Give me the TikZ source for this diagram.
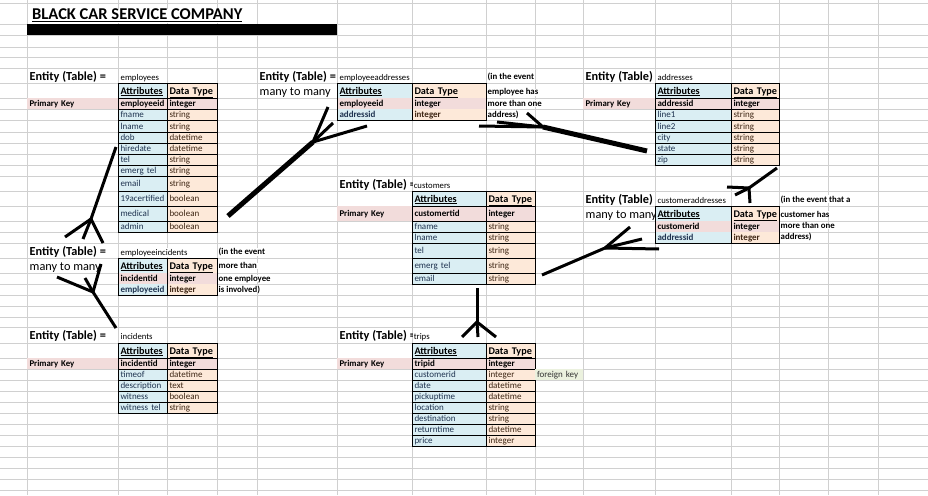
\documentclass[tikz,border=0pt]{standalone}
\usepackage{fontspec}
\setmainfont{Carlito}
\definecolor{attrblue}{HTML}{DAEEF3}
\definecolor{dtorange}{HTML}{FDE9D9}
\definecolor{pkpink}{HTML}{F2DCDB}
\definecolor{fkgreen}{HTML}{EBF1DE}
\definecolor{gridgray}{HTML}{D0D0D0}
\definecolor{attrtext}{HTML}{1F3350}
\definecolor{dttext}{HTML}{3E2614}
\begin{document}
\begin{tikzpicture}[
                    x=1pt, y=-1pt,
                    gridline/.style={draw=gridgray, line width=0.8pt},
                    cell/.style={anchor=north west, draw=black, line width=0.7pt, outer sep=0pt,
                                 inner xsep=2.5pt, inner ysep=0pt, text height=6.2pt, text depth=0pt,
                                 align=left, font=\fontsize{9}{10}\selectfont},
                    attr/.style={cell, fill=attrblue, text=attrtext},
                    dtype/.style={cell, fill=dtorange, text=dttext},
                    key/.style={fill=pkpink, text=black, font=\bfseries\fontsize{9}{10}\selectfont},
                    boldtext/.style={font=\bfseries\fontsize{9}{10}\selectfont},
                    head/.style={text=black, text height=7pt, font=\bfseries\fontsize{10.2}{12}\selectfont},
                    bare/.style={draw=none},
                    pklabel/.style={cell, draw=none, fill=pkpink, text=black, font=\bfseries\fontsize{8.8}{10}\selectfont},
                    fklabel/.style={cell, draw=none, fill=fkgreen, text=black!80, inner xsep=2pt},
                    entity/.style={anchor=base west, inner xsep=1pt, inner ysep=0pt, font=\bfseries\fontsize{12.3}{14}\selectfont},
                    manytomany/.style={entity, font=\fontsize{12.3}{14}\selectfont},
                    tname/.style={anchor=base west, inner xsep=1pt, inner ysep=1pt, fill=white, font=\fontsize{8.7}{10}\selectfont},
                    note/.style={tname, inner ysep=0pt, font=\bfseries\fontsize{8.8}{10}\selectfont},
                    tblline/.style={draw=black, line width=0.7pt},
                    stroke/.style={line width=3pt, line join=round},
                    heavy/.style={line width=5pt}
                    ]

    \useasboundingbox (0,0) rectangle (928,495);

    % sheet grid
    \foreach \r in {3,24,35,47,57,68,83,98,109,120,132,143,154,165,176,191,206,221,232,243,258,273,284,295,306,317,327,343,358,369,380,391,402,413,424,435,446,457,468,479,490}
        \draw[gridline] (0,\r) -- (928,\r);
    \foreach \c in {27,118,167,217,257,337,412,486,535,583,655,731,779,828,878}
        \draw[gridline] (\c,0) -- (\c,495);

    \node[anchor=base west, inner sep=0.5pt, fill=white, font=\bfseries\fontsize{16.5}{18}\selectfont] (title) at (31.5,20) {\underline{BLACK CAR SERVICE COMPANY}};
    \fill (27,24) rectangle (337,35);

    % labels
    \node[entity] (emp-ent) at (28.5,80) {Entity (Table) =};
    \node[tname] (emp-name) at (119.5,80) {employees};
    \node[entity] (ea-ent) at (258.5,80) {Entity (Table) =};
    \node[manytomany] (ea-m2m) at (258.5,95) {many to many};
    \node[tname] (ea-name) at (338.5,80) {employeeaddresses};
    \node[entity] (adr-ent) at (584.5,80) {Entity (Table)};
    \node[tname] (adr-name) at (656.5,80) {addresses};
    \begin{scope}
        \clip (337,176) rectangle (412,191);
        \node[entity] (cus-ent) at (338.5,188) {Entity (Table) =};
    \end{scope}
    \node[tname] (cus-name) at (412.6,188) {customers};
    \node[entity] (ca-ent) at (584.5,203) {Entity (Table)};
    \node[manytomany] (ca-m2m) at (584.5,218) {many to many};
    \node[tname] (ca-name) at (656.5,203) {customeraddresses};
    \node[entity] (ei-ent) at (28.5,255) {Entity (Table) =};
    \node[manytomany] (ei-m2m) at (28.5,270) {many to many};
    \node[tname] (ei-name) at (119.5,255) {employeeincidents};
    \node[entity] (inc-ent) at (28.5,339.5) {Entity (Table) =};
    \node[tname] (inc-name) at (119.5,339.5) {incidents};
    \begin{scope}
        \clip (337,327) rectangle (412,343);
        \node[entity] (trp-ent) at (338.5,339.5) {Entity (Table) =};
    \end{scope}
    \node[tname] (trp-name) at (412.6,339.5) {trips};

    \node[note] (ea-n1) at (486.5,79.5) {(in the event};
    \node[note] (ea-n2) at (486.5,94.7) {employee has};
    \node[note] (ea-n3) at (486.5,106.5) {more than one};
    \node[note] (ea-n4) at (486.5,117.5) {address)};
    \node[note] (ca-n1) at (779.5,202) {(in the event that a};
    \node[note] (ca-n2) at (779.5,217) {customer has};
    \node[note] (ca-n3) at (779.5,228.8) {more than one};
    \node[note] (ca-n4) at (779.5,239.8) {address)};
    \node[note] (ei-n1) at (217.5,254.3) {(in the event};
    \node[note] (ei-n2) at (217.5,268.8) {more than};
    \node[note] (ei-n3) at (217.5,281) {one employee};
    \node[note] (ei-n4) at (217.5,292) {is involved)};

    % employees
    \node[pklabel, text width=86pt, minimum height=11] (emp-pk) at (27,98) {Primary Key};
    \node[attr, head, text width=44pt, minimum height=15] (emp-ah) at (118,83) {\underline{Attributes}};
    \node[dtype, head, text width=45pt, minimum height=15] (emp-dh) at (167,83) {\underline{Data Type}};
    \node[attr, key, text width=44pt, minimum height=11] (emp-a0) at (118,98) {employeeid};
    \node[dtype, key, text width=45pt, minimum height=11] (emp-d0) at (167,98) {integer};
    \foreach \t/\h/\a/\d [count=\i] in {109/11/fname/string, 120/12/lname/string, 132/11/dob/datetime, 143/11/hiredate/datetime,
                                          154/11/tel/string, 165/11/emerg tel/string, 176/15/email/string, 191/15/19acertified/boolean,
                                          206/15/medical/boolean, 221/11/admin/boolean}{
        \node[attr, text width=44pt, minimum height=\h] (emp-a\i) at (118,\t) {\a};
        \node[dtype, text width=45pt, minimum height=\h] (emp-d\i) at (167,\t) {\d};
    }

    % employeeaddresses
    \node[attr, head, bare, text width=70pt, minimum height=15] (ea-ah) at (337,83) {\underline{Attributes}};
    \node[dtype, head, bare, text width=69pt, minimum height=15] (ea-dh) at (412,83) {\underline{Data Type}};
    \node[attr, key, bare, text width=70pt, minimum height=11] (ea-a1) at (337,98) {employeeid};
    \node[dtype, key, bare, text width=69pt, minimum height=11] (ea-d1) at (412,98) {integer};
    \node[attr, boldtext, bare, text width=70pt, minimum height=11] (ea-a2) at (337,109) {addressid};
    \node[dtype, boldtext, bare, text width=69pt, minimum height=11] (ea-d2) at (412,109) {integer};
    \draw[tblline] (ea-ah.north west) rectangle (ea-d2.south east);
    \draw[tblline] (ea-ah.north east) -- (ea-a2.south east);

    % addresses
    \node[pklabel, text width=67pt, minimum height=11] (adr-pk) at (583,98) {Primary Key};
    \node[attr, head, text width=71pt, minimum height=15] (adr-ah) at (655,83) {\underline{Attributes}};
    \node[dtype, head, text width=43pt, minimum height=15] (adr-dh) at (731,83) {\underline{Data Type}};
    \node[attr, key, text width=71pt, minimum height=11] (adr-a0) at (655,98) {addressid};
    \node[dtype, key, text width=43pt, minimum height=11] (adr-d0) at (731,98) {integer};
    \foreach \t/\h/\a [count=\i] in {109/11/line1, 120/12/line2, 132/11/city, 143/11/state, 154/11/zip}{
        \node[attr, text width=71pt, minimum height=\h] (adr-a\i) at (655,\t) {\a};
        \node[dtype, text width=43pt, minimum height=\h] (adr-d\i) at (731,\t) {string};
    }

    % customers
    \node[pklabel, text width=70pt, minimum height=15] (cus-pk) at (337,206) {Primary Key};
    \node[attr, head, text width=69pt, minimum height=15] (cus-ah) at (412,191) {\underline{Attributes}};
    \node[dtype, head, text width=44pt, minimum height=15] (cus-dh) at (486,191) {\underline{Data Type}};
    \node[attr, key, text width=69pt, minimum height=15] (cus-a0) at (412,206) {customertid};
    \node[dtype, key, text width=44pt, minimum height=15] (cus-d0) at (486,206) {integer};
    \foreach \t/\h/\a [count=\i] in {221/11/fname, 232/11/lname, 243/15/tel, 258/15/emerg tel, 273/11/email}{
        \node[attr, text width=69pt, minimum height=\h] (cus-a\i) at (412,\t) {\a};
        \node[dtype, text width=44pt, minimum height=\h] (cus-d\i) at (486,\t) {string};
    }

    % customeraddresses
    \node[attr, head, bare, text width=71pt, minimum height=15] (ca-ah) at (655,206) {\underline{Attributes}};
    \node[dtype, head, bare, text width=43pt, minimum height=15] (ca-dh) at (731,206) {\underline{Data Type}};
    \node[attr, key, bare, text width=71pt, minimum height=11] (ca-a1) at (655,221) {customerid};
    \node[dtype, key, bare, text width=43pt, minimum height=11] (ca-d1) at (731,221) {integer};
    \node[attr, boldtext, bare, text width=71pt, minimum height=11] (ca-a2) at (655,232) {addressid};
    \node[dtype, boldtext, bare, text width=43pt, minimum height=11] (ca-d2) at (731,232) {integer};
    \draw[tblline] (ca-ah.north west) rectangle (ca-d2.south east);
    \draw[tblline] (ca-ah.north east) -- (ca-a2.south east);

    % employeeincidents
    \node[attr, head, bare, text width=44pt, minimum height=15] (ei-ah) at (118,258) {\underline{Attributes}};
    \node[dtype, head, bare, text width=45pt, minimum height=15] (ei-dh) at (167,258) {\underline{Data Type}};
    \node[attr, key, bare, text width=44pt, minimum height=11] (ei-a1) at (118,273) {incidentid};
    \node[dtype, key, bare, text width=45pt, minimum height=11] (ei-d1) at (167,273) {integer};
    \node[attr, boldtext, bare, text width=44pt, minimum height=11] (ei-a2) at (118,284) {employeeid};
    \node[dtype, boldtext, bare, text width=45pt, minimum height=11] (ei-d2) at (167,284) {integer};
    \draw[tblline] (ei-ah.north west) rectangle (ei-d2.south east);
    \draw[tblline] (ei-ah.north east) -- (ei-a2.south east);

    % incidents
    \node[pklabel, text width=86pt, minimum height=11] (inc-pk) at (27,358) {Primary Key};
    \node[attr, head, text width=44pt, minimum height=15] (inc-ah) at (118,343) {\underline{Attributes}};
    \node[dtype, head, text width=45pt, minimum height=15] (inc-dh) at (167,343) {\underline{Data Type}};
    \node[attr, key, text width=44pt, minimum height=11] (inc-a0) at (118,358) {incidentid};
    \node[dtype, key, text width=45pt, minimum height=11] (inc-d0) at (167,358) {integer};
    \foreach \t/\a/\d [count=\i] in {369/timeof/datetime, 380/description/text, 391/witness/boolean, 402/witness tel/string}{
        \node[attr, text width=44pt, minimum height=11] (inc-a\i) at (118,\t) {\a};
        \node[dtype, text width=45pt, minimum height=11] (inc-d\i) at (167,\t) {\d};
    }

    % trips
    \node[pklabel, text width=70pt, minimum height=11] (trp-pk) at (337,358) {Primary Key};
    \node[attr, head, text width=69pt, minimum height=15] (trp-ah) at (412,343) {\underline{Attributes}};
    \node[dtype, head, text width=44pt, minimum height=15] (trp-dh) at (486,343) {\underline{Data Type}};
    \node[attr, key, text width=69pt, minimum height=11] (trp-a0) at (412,358) {tripid};
    \node[dtype, key, text width=44pt, minimum height=11] (trp-d0) at (486,358) {integer};
    \foreach \t/\a/\d [count=\i] in {369/customerid/integer, 380/date/datetime, 391/pickuptime/datetime, 402/location/string,
                                       413/destination/string, 424/returntime/datetime, 435/price/integer}{
        \node[attr, text width=69pt, minimum height=11] (trp-a\i) at (412,\t) {\a};
        \node[dtype, text width=44pt, minimum height=11] (trp-d\i) at (486,\t) {\d};
    }
    \node[fklabel, text width=44pt, minimum height=11] (trp-fk) at (535,369) {foreign key};

    % hand drawn crow's feet
    \node [coordinate] (ei-tail) at (116,147) {};
    \node [coordinate] (ei-join) at (91,219) {};
    \node [coordinate] (ei-f1) at (65,237) {};
    \node [coordinate] (ei-f2) at (83,239) {};
    \node [coordinate] (ei-f3) at (103,243) {};
    \draw[stroke] (ei-tail) -- (ei-join);
    \foreach \f in {1,2,3} \draw[stroke] (ei-join) -- (ei-f\f);

    \node [coordinate] (inc-tail) at (116,328) {};
    \node [coordinate] (inc-join) at (93,292) {};
    \node [coordinate] (inc-f1) at (57,277) {};
    \node [coordinate] (inc-f2) at (85,278) {};
    \node [coordinate] (inc-f3) at (101,264) {};
    \draw[stroke] (inc-tail) -- (inc-join);
    \foreach \f in {1,2,3} \draw[stroke] (inc-join) -- (inc-f\f);

    \node [coordinate] (ea-tail) at (228,216) {};
    \node [coordinate] (ea-join) at (313,142) {};
    \node [coordinate] (ea-f1) at (328,107) {};
    \node [coordinate] (ea-f2) at (333,123) {};
    \node [coordinate] (ea-f3) at (367,126) {};
    \draw[heavy] (ea-tail) -- (ea-join);
    \foreach \f in {1,2,3} \draw[stroke] (ea-join) -- (ea-f\f);

    \node [coordinate] (adr-tail) at (647,151) {};
    \node [coordinate] (adr-join) at (543,127) {};
    \node [coordinate] (adr-f1) at (479,126) {};
    \node [coordinate] (adr-f2) at (497,122) {};
    \node [coordinate] (adr-f3) at (527,113) {};
    \draw[heavy] (adr-tail) -- (adr-join);
    \foreach \f in {1,2,3} \draw[stroke] (adr-join) -- (adr-f\f);

    \node [coordinate] (ca-tail) at (777,168) {};
    \node [coordinate] (ca-join) at (749,188) {};
    \node [coordinate] (ca-f1) at (727,187) {};
    \node [coordinate] (ca-f2) at (735,195) {};
    \node [coordinate] (ca-f3) at (750,203) {};
    \draw[stroke] (ca-tail) -- (ca-join);
    \foreach \f in {1,2,3} \draw[stroke] (ca-join) -- (ca-f\f);

    \node [coordinate] (cus-tail) at (542,275) {};
    \node [coordinate] (cus-join) at (605,248) {};
    \node [coordinate] (cus-f1) at (630,227) {};
    \node [coordinate] (cus-f2) at (642,239) {};
    \node [coordinate] (cus-f3) at (659,249) {};
    \draw[stroke] (cus-tail) -- (cus-join);
    \foreach \f in {1,2,3} \draw[stroke] (cus-join) -- (cus-f\f);

    \node [coordinate] (trp-tail) at (477,288) {};
    \node [coordinate] (trp-join) at (477,322) {};
    \node [coordinate] (trp-f1) at (462,337) {};
    \node [coordinate] (trp-f2) at (478,337) {};
    \node [coordinate] (trp-f3) at (496,337) {};
    \draw[stroke] (trp-tail) -- (trp-join);
    \foreach \f in {1,2,3} \draw[stroke] (trp-join) -- (trp-f\f);

\end{tikzpicture}
\end{document}
